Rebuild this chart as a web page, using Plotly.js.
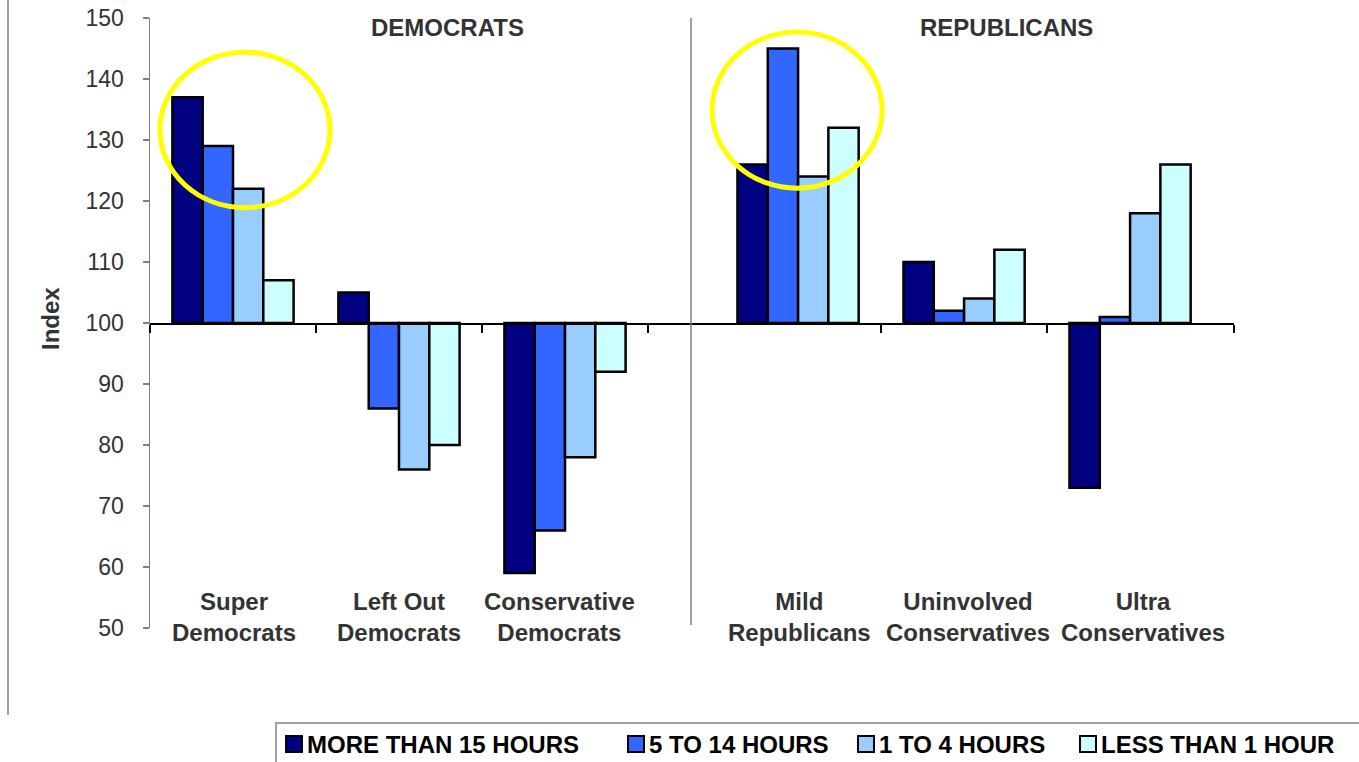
<!DOCTYPE html>
<html>
<head>
<meta charset="utf-8">
<script src="https://cdn.plot.ly/plotly-3.0.1.min.js"></script>
<style>
  html, body { margin: 0; padding: 0; background: #ffffff; }
  #chart { width: 1359px; height: 762px; }
</style>
</head>
<body>
<div id="chart"></div>
<script>
// ---- Data ----
const categories = [
  "Super<br>Democrats",
  "Left Out<br>Democrats",
  "Conservative<br>Democrats",
  "Mild<br>Republicans",
  "Uninvolved<br>Conservatives",
  "Ultra<br>Conservatives"
];
const seriesNames = ["MORE THAN 15 HOURS", "5 TO 14 HOURS", "1 TO 4 HOURS", "LESS THAN 1 HOUR"];
const moreThan15 = [137, 105, 59, 126, 110, 73];
const h5to14     = [129, 86, 66, 145, 102, 101];
const h1to4      = [122, 76, 78, 124, 104, 118];
const lessThan1  = [107, 80, 92, 132, 112, 126];
const groupTitles = ["DEMOCRATS", "REPUBLICANS"];
const yTickVals = [50, 60, 70, 80, 90, 100, 110, 120, 130, 140, 150];
const baseline = 100;

// ---- Styling / layout helpers ----
const colors = ["#000080", "#3366FF", "#99CCFF", "#CCFFFF"];
const FONT = "Liberation Sans, Arial, sans-serif";
const W = 1359, H = 762;
const M = { l: 150, r: 125, t: 18, b: 134 };
const plotW = W - M.l - M.r, plotH = H - M.t - M.b;
const px = x => (x - M.l) / plotW;
const py = y => (H - M.b - y) / plotH;

// category positions: a gap separates the two parties
const partyGap = 0.404;
const xpos = categories.map((c, i) => i + (i >= 3 ? partyGap : 0));

const allSeries = [moreThan15, h5to14, h1to4, lessThan1];
const traces = allSeries.map((vals, k) => ({
  type: "bar",
  name: seriesNames[k],
  x: xpos,
  y: vals.map(v => v - baseline),
  base: baseline,
  customdata: vals,
  hovertemplate: "%{customdata}<extra>" + seriesNames[k] + "</extra>",
  marker: { color: colors[k], line: { color: "#000000", width: 2.5 } },
  showlegend: false
}));

const annotations = [];
const shapes = [];

// category labels (pixel centres of the label blocks)
const labelCentres = [234, 399, 559, 799, 968, 1143];
categories.forEach((c, i) => {
  annotations.push({
    x: px(labelCentres[i]), xref: "paper", y: py(617), yref: "paper",
    text: "<b>" + c + "</b>", showarrow: false,
    xanchor: "center", yanchor: "middle",
    font: { family: FONT, size: 24, color: "#333333" }
  });
});

// group titles
const groupTitleX = [447, 1006];
groupTitles.forEach((t, i) => {
  annotations.push({
    x: px(groupTitleX[i]), xref: "paper", y: py(27), yref: "paper",
    text: "<b>" + t + "</b>", showarrow: false,
    xanchor: "center", yanchor: "middle",
    font: { family: FONT, size: 24, color: "#333333" }
  });
});

// y-axis title
annotations.push({
  x: px(50), xref: "paper", y: py(319), yref: "paper",
  text: "<b>Index</b>", showarrow: false, textangle: -90,
  xanchor: "center", yanchor: "middle",
  font: { family: FONT, size: 24, color: "#333333" }
});

// party separator
shapes.push({
  type: "line", xref: "x", yref: "y",
  x0: 2.759, x1: 2.759, y0: 150.5, y1: 50.5,
  line: { color: "#808080", width: 1.5 }
});

// outer left border
shapes.push({
  type: "line", xref: "paper", yref: "paper",
  x0: px(8), x1: px(8), y0: py(0), y1: py(715),
  line: { color: "#a0a0a0", width: 2 }
});

// highlight ellipses
shapes.push({
  type: "circle", xref: "x", yref: "y",
  x0: -0.44, x1: 0.584, y0: 118.9, y1: 144.4,
  line: { color: "#FFFF00", width: 5 }
});
shapes.push({
  type: "circle", xref: "x", yref: "y",
  x0: 2.886, x1: 3.91, y0: 122.1, y1: 147.7,
  line: { color: "#FFFF00", width: 5 }
});

// legend box
shapes.push({
  type: "rect", xref: "paper", yref: "paper",
  x0: px(276), x1: px(1375), y0: py(723), y1: py(780),
  line: { color: "#a0a0a0", width: 2 }, fillcolor: "rgba(255,255,255,0)"
});
const legendX = [286, 628, 858, 1080];
seriesNames.forEach((n, k) => {
  shapes.push({
    type: "rect", xref: "paper", yref: "paper",
    x0: px(legendX[k]), x1: px(legendX[k] + 16), y0: py(736), y1: py(752),
    fillcolor: colors[k], line: { color: "#000000", width: 2 }
  });
  annotations.push({
    x: px(legendX[k] + 19), xref: "paper", y: py(744), yref: "paper",
    text: "<b>" + n + "</b>", showarrow: false,
    xanchor: "left", yanchor: "middle",
    font: { family: FONT, size: 24, color: "#000000" }
  });
});

const tickBounds = [-0.5, 0.5, 1.5, 2.5, 3 + partyGap + 0.5, 4 + partyGap + 0.5, 6.03];

const layout = {
  width: W, height: H,
  margin: M,
  paper_bgcolor: "#ffffff",
  plot_bgcolor: "rgba(0,0,0,0)",
  barmode: "group",
  bargap: 0.27,
  bargroupgap: 0,
  showlegend: false,
  font: { family: FONT, size: 23, color: "#333333" },
  xaxis: {
    range: [-0.5, 6.03],
    anchor: "free", position: 0.5,
    showline: true, linecolor: "#000000", linewidth: 1.5,
    ticks: "outside", ticklen: 8, tickcolor: "#000000", tickwidth: 1.5,
    tickvals: tickBounds, showticklabels: false,
    showgrid: false, zeroline: false, fixedrange: true
  },
  yaxis: {
    range: [50, 150],
    tickvals: yTickVals,
    showline: true, linecolor: "#808080", linewidth: 1.5,
    ticks: "outside", ticklen: 6, tickcolor: "#808080", tickwidth: 1.5,
    ticklabelstandoff: 14,
    tickfont: { family: FONT, size: 23, color: "#333333" },
    showgrid: false, zeroline: false, fixedrange: true
  },
  annotations: annotations,
  shapes: shapes
};

Plotly.newPlot("chart", traces, layout, { displayModeBar: false, staticPlot: true });
</script>
</body>
</html>
